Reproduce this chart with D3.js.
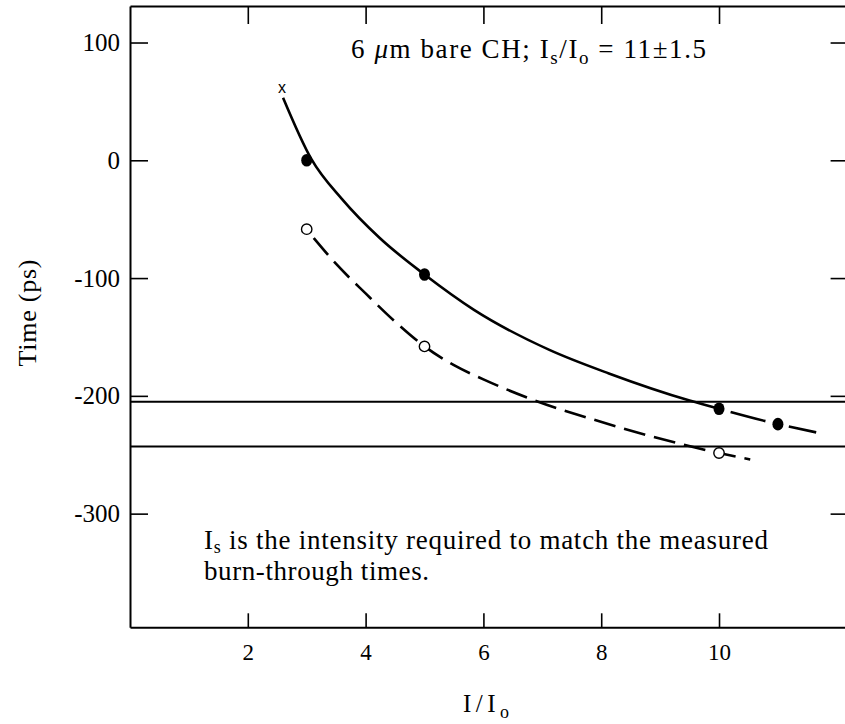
<!DOCTYPE html>
<html>
<head>
<meta charset="utf-8">
<script src="https://cdn.jsdelivr.net/npm/d3@7"></script>
<style>
  body { margin: 0; background: #fff; }
</style>
</head>
<body>
<div id="chart"></div>
<script>
// tick values
var xTicks = [2, 4, 6, 8, 10];
var yTicks = [100, 0, -100, -200, -300];

// measured points (I/Io, time in ps)
var filledX = [3, 5, 10, 11];
var filledT = [0, -97, -211, -224];
var hollowX = [3, 5, 10];
var hollowT = [-58.5, -158, -248.5];
var crossX = [2.58];
var crossT = [60.5];

// curves
var solidX = [2.6, 3.08, 3.6, 4.24, 5.0, 5.84, 7.12, 8.13, 9.5, 10];
var solidT = [53, 1, -33, -66, -97, -127, -161, -181, -204, -211];
var solidExtX = [10, 11, 11.65];
var solidExtT = [-211, -224, -231];
var openX = [3.12, 3.5, 4.0, 4.5, 5.0, 5.5, 6.0, 6.85, 7.86, 9.32, 10, 10.53];
var openT = [-66, -88, -113, -137, -158, -174, -186, -203.5, -220, -240.5, -248.5, -254];

// measured burn-through band
var bandT = [-205, -243];

var width = 845, height = 724;
var serif = "'Liberation Serif', 'Times New Roman', Times, serif";

var svg = d3.select("#chart")
    .append("svg")
    .attr("width", width)
    .attr("height", height)
    .style("font-family", serif);

var x = d3.scaleLinear().domain([0, 12.2]).range([130, 848.6]);
var y = d3.scaleLinear().domain([-396.5, 131]).range([627.3, 6]);

var plain = function (d) { return String(d); };

// axes: ticks point inward
var axisB = svg.append("g")
    .attr("transform", "translate(0," + y(-396.5) + ")")
    .call(d3.axisBottom(x).tickValues(xTicks).tickSize(-14).tickSizeOuter(0).tickPadding(16).tickFormat(plain));
var axisT = svg.append("g")
    .attr("transform", "translate(0," + y(131) + ")")
    .call(d3.axisTop(x).tickValues(xTicks).tickSize(-18).tickSizeOuter(0).tickFormat(""));
var axisL = svg.append("g")
    .attr("transform", "translate(" + x(0) + ",0)")
    .call(d3.axisLeft(y).tickValues(yTicks).tickSize(-18).tickSizeOuter(0).tickPadding(10).tickFormat(plain));
var axisR = svg.append("g")
    .attr("transform", "translate(" + x(12.2) + ",0)")
    .call(d3.axisRight(y).tickValues(yTicks).tickSize(-18).tickSizeOuter(0).tickFormat(""));

[axisB, axisT, axisL, axisR].forEach(function (g) {
    g.attr("font-family", null);
    g.select(".domain").attr("stroke", "#000").attr("stroke-width", 2);
    g.selectAll(".tick line").attr("stroke", "#000").attr("stroke-width", 1.6);
});
axisB.selectAll("text").style("font-family", serif).style("font-size", "23px");
axisL.selectAll("text").style("font-family", serif).style("font-size", "25px");

// band lines
svg.append("g")
    .selectAll("line")
    .data(bandT)
    .enter().append("line")
    .attr("x1", x(0))
    .attr("x2", width)
    .attr("y1", function (d) { return y(d); })
    .attr("y2", function (d) { return y(d); })
    .attr("stroke", "#000")
    .attr("stroke-width", 1.8);

var line = d3.line()
    .x(function (d) { return x(d[0]); })
    .y(function (d) { return y(d[1]); })
    .curve(d3.curveMonotoneX);

svg.append("path")
    .attr("d", line(d3.zip(solidX, solidT)))
    .attr("fill", "none")
    .attr("stroke", "#000")
    .attr("stroke-width", 2.6);

svg.append("path")
    .attr("d", line(d3.zip(solidExtX, solidExtT)))
    .attr("fill", "none")
    .attr("stroke", "#000")
    .attr("stroke-width", 2.6)
    .attr("stroke-dasharray", "0,12,36,24,28");

svg.append("path")
    .attr("d", line(d3.zip(openX, openT)))
    .attr("fill", "none")
    .attr("stroke", "#000")
    .attr("stroke-width", 2.6)
    .attr("stroke-dasharray", "22,9");

// points
svg.append("g")
    .selectAll("ellipse")
    .data(d3.zip(filledX, filledT))
    .enter().append("ellipse")
    .attr("cx", function (d) { return x(d[0]); })
    .attr("cy", function (d) { return y(d[1]); })
    .attr("rx", 5.5)
    .attr("ry", 6.3)
    .attr("fill", "#000");

svg.append("g")
    .selectAll("circle")
    .data(d3.zip(hollowX, hollowT))
    .enter().append("circle")
    .attr("cx", function (d) { return x(d[0]); })
    .attr("cy", function (d) { return y(d[1]); })
    .attr("r", 5.2)
    .attr("fill", "#fff")
    .attr("stroke", "#000")
    .attr("stroke-width", 1.4);

svg.append("g")
    .selectAll("text")
    .data(d3.zip(crossX, crossT))
    .enter().append("text")
    .attr("x", function (d) { return x(d[0]); })
    .attr("y", function (d) { return y(d[1]); })
    .attr("text-anchor", "middle")
    .attr("dominant-baseline", "middle")
    .style("font-family", "'Liberation Sans', sans-serif")
    .style("font-size", "16px")
    .text("x");

// title
var title = svg.append("text")
    .attr("x", 351)
    .attr("y", 58)
    .attr("textLength", 355)
    .attr("lengthAdjust", "spacing")
    .style("font-family", serif)
    .style("font-size", "27px");
title.append("tspan").text("6 ");
title.append("tspan").style("font-style", "italic").text("\u03bc");
title.append("tspan").text("m bare CH;  I");
title.append("tspan").attr("dy", 6).style("font-size", "19px").text("s");
title.append("tspan").attr("dy", -6).text("/I");
title.append("tspan").attr("dy", 6).style("font-size", "19px").text("o");
title.append("tspan").attr("dy", -6).text(" = 11\u00b11.5");

// note
var note = svg.append("text")
    .attr("x", 204)
    .attr("y", 549)
    .attr("textLength", 564)
    .attr("lengthAdjust", "spacing")
    .style("font-family", serif)
    .style("font-size", "27px");
note.append("tspan").text("I");
note.append("tspan").attr("dy", 4).style("font-size", "18px").text("s");
note.append("tspan").attr("dy", -4).text(" is the intensity required to match the measured");

svg.append("text")
    .attr("x", 204)
    .attr("y", 580)
    .attr("textLength", 225)
    .attr("lengthAdjust", "spacing")
    .style("font-family", serif)
    .style("font-size", "27px")
    .text("burn-through times.");

// axis titles
var xt = svg.append("text")
    .attr("x", 463)
    .attr("y", 712)
    .attr("textLength", 46)
    .attr("lengthAdjust", "spacing")
    .style("font-family", serif)
    .style("font-size", "25px");
xt.append("tspan").text("I/I");
xt.append("tspan").attr("dy", 6).style("font-size", "18px").text("o");

svg.append("text")
    .attr("transform", "translate(36,313) rotate(-90)")
    .attr("text-anchor", "middle")
    .attr("textLength", 107)
    .attr("lengthAdjust", "spacing")
    .style("font-family", serif)
    .style("font-size", "26px")
    .text("Time (ps)");
</script>
</body>
</html>
